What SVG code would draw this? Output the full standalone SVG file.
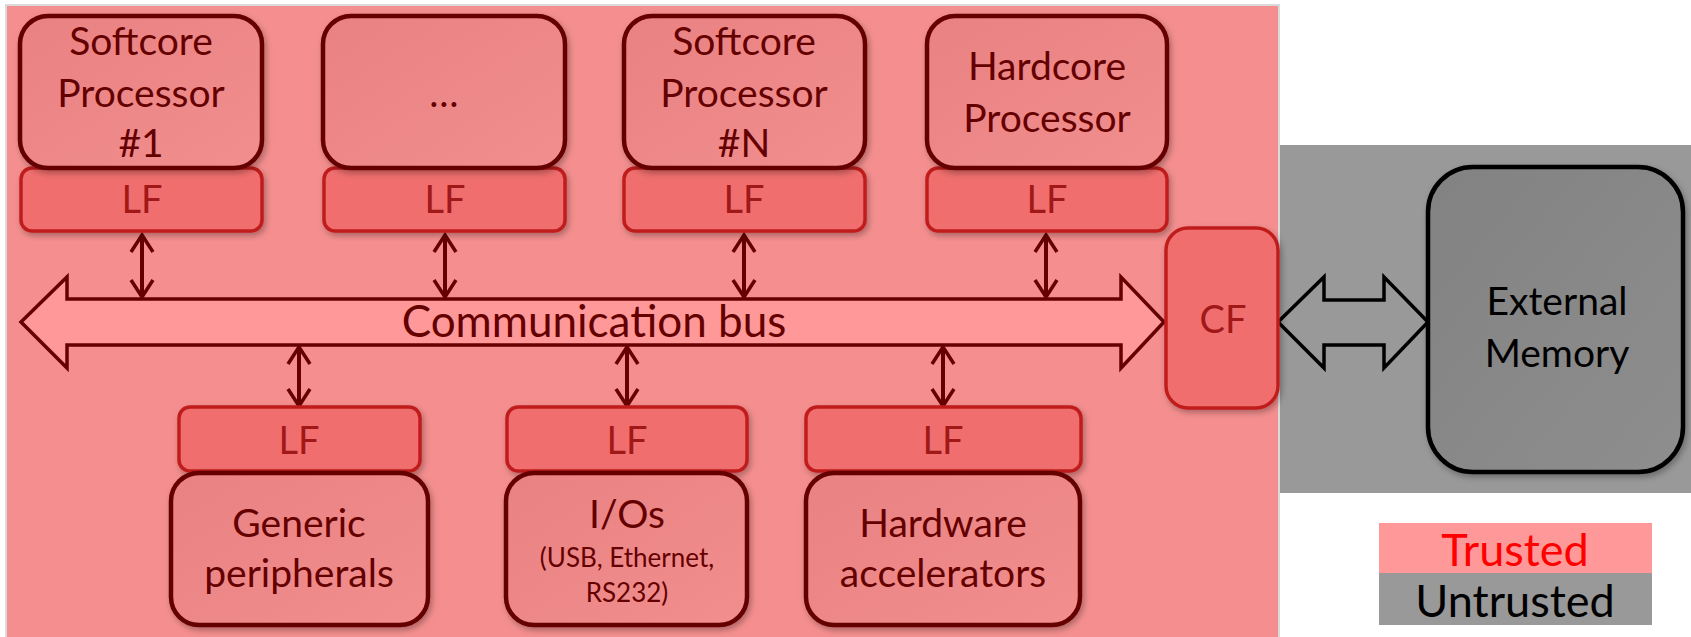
<svg xmlns="http://www.w3.org/2000/svg" width="1691" height="637" viewBox="0 0 1691 637">
  <style>
    text { font-family: Lato, "Open Sans", "Liberation Sans", sans-serif; text-anchor: middle; }
    .blk { fill: url(#blkFill); stroke: #650000; stroke-width: 4.5; filter: url(#shadow); }
    .lf { fill: #F06E6E; stroke: #C01E1E; stroke-width: 3.5; filter: url(#shadow); }
    .blkTxt { fill: #650000; font-size: 39px; }
    .lfTxt { fill: #A01818; font-size: 38px; }
    .small { font-size: 26px; }
    .link { stroke: #650000; stroke-width: 4; fill: none; }
  </style>
  <defs>
    <linearGradient id="blkFill" x1="0" y1="0" x2="1" y2="1">
      <stop offset="0" stop-color="#E98282"/>
      <stop offset="1" stop-color="#F28E8E"/>
    </linearGradient>
    <linearGradient id="memFill" x1="0" y1="0" x2="1" y2="1">
      <stop offset="0" stop-color="#828282"/>
      <stop offset="1" stop-color="#8E8E8E"/>
    </linearGradient>
    <filter id="shadow" x="-10%" y="-10%" width="125%" height="125%">
      <feDropShadow dx="2" dy="3" stdDeviation="3" flood-color="#000" flood-opacity="0.3"/>
    </filter>
    <marker id="vhead" viewBox="-22 -14 26 28" refX="0" refY="0" markerWidth="26" markerHeight="28" markerUnits="userSpaceOnUse" orient="auto-start-reverse" overflow="visible">
      <path d="M-17,-11 L0,0 L-17,11" fill="none" stroke="#650000" stroke-width="3.5" stroke-linejoin="miter"/>
    </marker>
  </defs>

  <!-- trusted / untrusted zones -->
  <g id="zones">
    <rect x="1279" y="145" width="412" height="348" fill="#999999"/>
    <rect x="6" y="5" width="1273" height="640" fill="#F58F8F" stroke="#DADADA" stroke-width="2"/>
  </g>

  <!-- system bus -->
  <g id="bus">
    <path d="M21,322 L67,277 L67,299 L1121,299 L1121,277 L1164,322 L1121,368 L1121,345 L67,345 L67,368 Z" fill="#FF9999" stroke="#650000" stroke-width="3.5" stroke-linejoin="miter"/>
    <text class="blkTxt" x="594" y="337" style="font-size:44px">Communication bus</text>
  </g>

  <!-- bus links -->
  <g id="connectors">
    <line class="link" x1="142" y1="235" x2="142" y2="297" marker-start="url(#vhead)" marker-end="url(#vhead)"/>
    <line class="link" x1="445" y1="235" x2="445" y2="297" marker-start="url(#vhead)" marker-end="url(#vhead)"/>
    <line class="link" x1="744" y1="235" x2="744" y2="297" marker-start="url(#vhead)" marker-end="url(#vhead)"/>
    <line class="link" x1="1046" y1="235" x2="1046" y2="297" marker-start="url(#vhead)" marker-end="url(#vhead)"/>
    <line class="link" x1="299" y1="347" x2="299" y2="406" marker-start="url(#vhead)" marker-end="url(#vhead)"/>
    <line class="link" x1="627" y1="347" x2="627" y2="406" marker-start="url(#vhead)" marker-end="url(#vhead)"/>
    <line class="link" x1="943" y1="347" x2="943" y2="406" marker-start="url(#vhead)" marker-end="url(#vhead)"/>
    <path d="M1278,322 L1324,277 L1324,300 L1384,300 L1384,277 L1428,322 L1384,368 L1384,345 L1324,345 L1324,368 Z" fill="#999999" stroke="#000" stroke-width="3.5" stroke-linejoin="miter"/>
  </g>

  <!-- top row: processors -->
  <g id="softcore1">
    <rect class="lf" x="21" y="168" width="241" height="63" rx="11"/>
    <text class="lfTxt" x="142" y="213">LF</text>
    <rect class="blk" x="20" y="16" width="242" height="152" rx="28"/>
    <text class="blkTxt" x="141" y="55">Softcore</text>
    <text class="blkTxt" x="141" y="107">Processor</text>
    <text class="blkTxt" x="141" y="157">#1</text>
  </g>
  <g id="softcoreMore">
    <rect class="lf" x="324" y="168" width="241" height="63" rx="11"/>
    <text class="lfTxt" x="445" y="213">LF</text>
    <rect class="blk" x="323" y="16" width="242" height="152" rx="28"/>
    <text class="blkTxt" x="444" y="107">…</text>
  </g>
  <g id="softcoreN">
    <rect class="lf" x="624" y="168" width="241" height="63" rx="11"/>
    <text class="lfTxt" x="744" y="213">LF</text>
    <rect class="blk" x="624" y="16" width="241" height="152" rx="28"/>
    <text class="blkTxt" x="744" y="55">Softcore</text>
    <text class="blkTxt" x="744" y="107">Processor</text>
    <text class="blkTxt" x="744" y="157">#N</text>
  </g>
  <g id="hardcore">
    <rect class="lf" x="927" y="168" width="240" height="63" rx="11"/>
    <text class="lfTxt" x="1047" y="213">LF</text>
    <rect class="blk" x="927" y="16" width="240" height="152" rx="28"/>
    <text class="blkTxt" x="1047" y="80">Hardcore</text>
    <text class="blkTxt" x="1047" y="132">Processor</text>
  </g>

  <!-- central firewall -->
  <g id="cf">
    <rect class="lf" x="1166" y="228" width="112" height="180" rx="22"/>
    <text class="lfTxt" x="1223" y="333">CF</text>
  </g>

  <!-- bottom row: peripherals -->
  <g id="generic">
    <rect class="lf" x="179" y="407" width="241" height="64" rx="11"/>
    <text class="lfTxt" x="299" y="454">LF</text>
    <rect class="blk" x="171" y="473" width="257" height="152" rx="28"/>
    <text class="blkTxt" x="299" y="537">Generic</text>
    <text class="blkTxt" x="299" y="587">peripherals</text>
  </g>
  <g id="ios">
    <rect class="lf" x="507" y="407" width="240" height="64" rx="11"/>
    <text class="lfTxt" x="627" y="454">LF</text>
    <rect class="blk" x="506" y="473" width="241" height="152" rx="28"/>
    <text class="blkTxt" x="627" y="528">I/Os</text>
    <text class="blkTxt small" x="627" y="567">(USB, Ethernet,</text>
    <text class="blkTxt small" x="627" y="602">RS232)</text>
  </g>
  <g id="accelerators">
    <rect class="lf" x="806" y="407" width="275" height="64" rx="11"/>
    <text class="lfTxt" x="943" y="454">LF</text>
    <rect class="blk" x="806" y="473" width="274" height="152" rx="28"/>
    <text class="blkTxt" x="943" y="537">Hardware</text>
    <text class="blkTxt" x="943" y="587">accelerators</text>
  </g>

  <!-- off-chip memory -->
  <g id="memory">
    <rect x="1428" y="167" width="255" height="305" rx="45" fill="url(#memFill)" stroke="#000" stroke-width="4.5" filter="url(#shadow)"/>
    <text x="1557" y="315" fill="#000" style="font-size:39px">External</text>
    <text x="1557" y="367" fill="#000" style="font-size:39px">Memory</text>
  </g>

  <!-- legend -->
  <g id="legend">
    <rect x="1379" y="523" width="273" height="50" fill="#FF9999"/>
    <rect x="1379" y="573" width="273" height="52" fill="#999999"/>
    <text x="1515" y="566" fill="#FF0000" style="font-size:45px">Trusted</text>
    <text x="1515" y="617" fill="#000" style="font-size:45px">Untrusted</text>
  </g>
</svg>
